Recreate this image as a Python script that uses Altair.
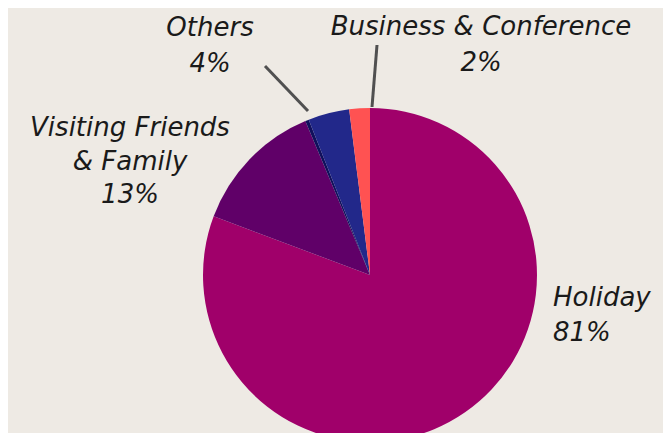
import altair as alt
import pandas as pd

# data
categories = ["Holiday", "Visiting Friends & Family", "Divider", "Others", "Business & Conference"]
values = [81, 13, 0.35, 4, 2]
colors = ["#A0006A", "#600068", "#10105C", "#22288A", "#FF5252"]

label_texts = ["Holiday\n81%", "Visiting Friends\n& Family\n13%", "Others\n4%", "Business & Conference\n2%"]

BG = "#EEEAE4"
FONT = "DejaVu Sans"

df = pd.DataFrame({"cat": categories, "val": values, "order": list(range(len(values)))})

pie = alt.Chart(df).mark_arc(outerRadius=167, stroke=None).encode(
    theta=alt.Theta("val:Q", stack=True),
    order=alt.Order("order:Q"),
    color=alt.Color("cat:N", scale=alt.Scale(domain=categories, range=colors), legend=None),
    x=alt.value(362),
    y=alt.value(267),
)

def label(text, x, y, align, lh):
    d = pd.DataFrame({"t": [text]})
    return alt.Chart(d).mark_text(
        align=align, baseline="middle", lineBreak="\n", lineHeight=lh,
        font=FONT, fontSize=26, fontStyle="italic", color="#1a1a1a",
    ).encode(text="t:N", x=alt.value(x), y=alt.value(y))

labels = [
    label(label_texts[0], 545, 290, "left", 35),
    label(label_texts[1], 122, 120, "center", 33.5),
    label(label_texts[2], 202, 20, "center", 36),
    label(label_texts[3], 473, 19, "center", 36),
]

def leader(x1, y1, x2, y2):
    d = pd.DataFrame({"a": [0]})
    return alt.Chart(d).mark_rule(color="#505050", strokeWidth=3).encode(
        x=alt.value(x1), y=alt.value(y1), x2=alt.value(x2), y2=alt.value(y2)
    )

leaders = [leader(257, 58, 300, 103), leader(369, 37, 364, 99)]

chart = alt.layer(pie, *leaders, *labels).properties(
    width=655, height=425, padding=0, autosize=alt.AutoSizeParams(type="none"),
    background=BG,
).configure_view(stroke=None)

chart.save("out.html", embed_options={"renderer": "svg", "actions": False})
